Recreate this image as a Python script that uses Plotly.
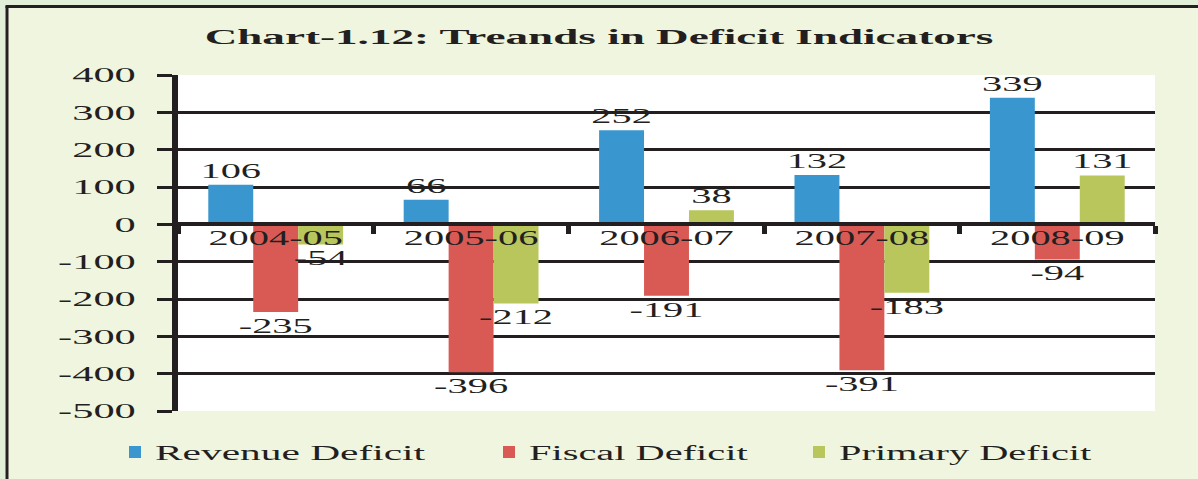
import plotly.graph_objects as go

categories = ["2004-05", "2005-06", "2006-07", "2007-08", "2008-09"]
revenue_deficit = [106, 66, 252, 132, 339]
fiscal_deficit = [-235, -396, -191, -391, -94]
primary_deficit = [-54, -212, 38, -183, 131]
y_tick_vals = [400, 300, 200, 100, 0, -100, -200, -300, -400, -500]
y_tick_text = ["400", "300", "200", "100", "0", "-100", "-200", "-300", "-400", "-500"]
series_names = ["Revenue Deficit", "Fiscal Deficit", "Primary Deficit"]
colors = ["#3A96CE", "#D95A55", "#B8C65C"]

FONT = "Liberation Serif, Times New Roman, serif"
INK = "#231F20"

FW, FH = 1198, 479
L, R, T, B = 178, 1155, 75, 411   # plot area in pixels
def px(p):
    return p / FW
def py(p):
    return 1 - p / FH

fig = go.Figure()
all_series = [revenue_deficit, fiscal_deficit, primary_deficit]
legend_ids = ["legend", "legend2", "legend3"]
for name, vals, col, lg in zip(series_names, all_series, colors, legend_ids):
    fig.add_trace(go.Bar(
        x=categories, y=vals, name=name, marker_color=col,
        marker_line_width=0,
        text=[str(v) for v in vals], textposition="outside",
        textfont=dict(family=FONT, size=20, color=INK),
        constraintext="none", cliponaxis=False, legend=lg, showlegend=True,
    ))

legend_common = dict(orientation="h", yanchor="middle", xanchor="left",
                     font=dict(family=FONT, size=20, color=INK),
                     bgcolor="rgba(0,0,0,0)", entrywidth=300,
                     entrywidthmode="pixels", visible=True)
fig.update_layout(
    width=FW, height=FH, showlegend=True,
    margin=dict(l=0, r=0, t=0, b=0, autoexpand=False),
    paper_bgcolor="#F0F5DF", plot_bgcolor="#FFFFFF",
    barmode="group", bargap=0.31, bargroupgap=0,
    title=dict(text="<b>Chart-1.12: Treands in Deficit Indicators</b>",
               x=0.5, xanchor="center", y=py(37), yanchor="middle",
               font=dict(family=FONT, size=21, color=INK)),
    legend=dict(x=px(115), y=py(452), **legend_common),
    legend2=dict(x=px(489), y=py(452), **legend_common),
    legend3=dict(x=px(799), y=py(452), **legend_common),
    font=dict(family=FONT, color=INK),
    yaxis=dict(domain=[py(B), py(T)], range=[-500, 400],
               tickvals=y_tick_vals, ticktext=y_tick_text,
               showgrid=True, gridcolor="#231F20", gridwidth=2.5,
               zeroline=False, showline=True, linecolor="#231F20", linewidth=6,
               ticks="outside", ticklen=15, tickwidth=3, tickcolor="#231F20",
               ticklabelstandoff=17, automargin=False,
               tickfont=dict(family=FONT, size=21, color=INK)),
    xaxis=dict(type="category", domain=[px(L), px(R)],
               anchor="free", position=py(224), showline=True,
               linecolor="#231F20", linewidth=4,
               ticks="outside", tickson="boundaries", ticklen=8, tickwidth=5,
               tickcolor="#231F20", showgrid=False, automargin=False,
               ticklabelstandoff=-5,
               tickfont=dict(family=FONT, size=20, color=INK)),
    shapes=[
        dict(type="rect", xref="paper", yref="paper", x0=px(0), x1=px(5),
             y0=0, y1=1, fillcolor="#E1EED8", line_width=0, layer="below"),
        dict(type="rect", xref="paper", yref="paper", x0=0, x1=1,
             y0=py(5), y1=1, fillcolor="#E1EED8", line_width=0, layer="below"),
        dict(type="line", xref="paper", yref="paper", x0=px(7), x1=px(7),
             y0=0, y1=py(6), line=dict(color="#231F20", width=3)),
        dict(type="line", xref="paper", yref="paper", x0=px(5.5), x1=1,
             y0=py(6.5), y1=py(6.5), line=dict(color="#231F20", width=3)),
    ],
)

post = """
document.body.style.margin = '0';
var gd = document.getElementById('{plot_id}');
gd.querySelectorAll('.legend .scrollbox').forEach(function(s){ s.removeAttribute('clip-path'); });
gd.querySelectorAll('text').forEach(function(t){
  var SX = t.classList.contains('gtitle') ? 2.15 : (t.classList.contains('legendtext') ? 2.07 : 2.02);
  var x = parseFloat(t.getAttribute('x')) || 0;
  var tr = t.getAttribute('transform') || '';
  t.setAttribute('transform', tr + ' translate(' + x + ',0) scale(' + SX + ',1) translate(' + (-x) + ',0)');
});
"""
fig.write_html("out.html", post_script=post, config={"displayModeBar": False})
